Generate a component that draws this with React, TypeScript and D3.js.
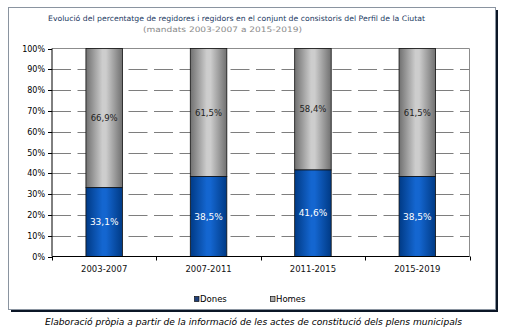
import React from "react";
import * as d3 from "d3";

const categories = ["2003-2007", "2007-2011", "2011-2015", "2015-2019"];
const dones = [33.1, 38.5, 41.6, 38.5];
const homes = [66.9, 61.5, 58.4, 61.5];
const yTicks = [0, 10, 20, 30, 40, 50, 60, 70, 80, 90, 100];
const title1 = "Evolució del percentatge de regidores i regidors en el conjunt de consistoris del Perfil de la Ciutat";
const title2 = "(mandats 2003-2007 a 2015-2019)";
const caption = "Elaboració pròpia a partir de la informació de les actes de constitució dels plens municipals";
const seriesNames = ["Dones", "Homes"];

const fmt = (v: number) => v.toFixed(1).replace(".", ",") + "%";

export default function App() {
  const W = 516, H = 328;
  const left = 52, right = 469.5, top = 48.5, bottom = 256.5;
  const x = d3.scaleBand<string>().domain(categories).range([left, right]).paddingInner(0).paddingOuter(0);
  const y = d3.scaleLinear().domain([0, 100]).range([bottom, top]);
  const barW = x.bandwidth() * 0.35;
  const font = "'DejaVu Sans', Verdana, sans-serif";

  return (
    <svg width={W} height={H} style={{ position: "absolute", left: 0, top: 0 }} fontFamily={font}>
      <defs>
        <linearGradient id="gBlue" x1="0" x2="1" y1="0" y2="0">
          <stop offset="0" stopColor="#003a85" />
          <stop offset="0.45" stopColor="#1466d0" />
          <stop offset="0.55" stopColor="#1466d0" />
          <stop offset="1" stopColor="#003a85" />
        </linearGradient>
        <linearGradient id="gGray" x1="0" x2="1" y1="0" y2="0">
          <stop offset="0" stopColor="#707070" />
          <stop offset="0.45" stopColor="#cdcdcd" />
          <stop offset="0.55" stopColor="#cdcdcd" />
          <stop offset="1" stopColor="#707070" />
        </linearGradient>
      </defs>
      <rect x={0} y={0} width={W} height={H} fill="#ffffff" />
      {/* frame with shadow */}
      <rect x={11} y={10} width={487} height={302} fill="#0b1626" />
      <rect x={8.5} y={7.5} width={487} height={302} fill="#ffffff" stroke="#8a94a0" strokeWidth={1} />

      {/* titles */}
      <text x={48} y={21} fontSize={7.5} fill="#1c3a62" textLength={377} lengthAdjust="spacingAndGlyphs">{title1}</text>
      <text x={143} y={32} fontSize={7.5} fill="#8a8a8a" textLength={159} lengthAdjust="spacingAndGlyphs">{title2}</text>

      {/* plot area border */}
      <line x1={left} x2={right} y1={top} y2={top} stroke="#8c8c8c" strokeWidth={1} />
      <line x1={right} x2={right} y1={top} y2={bottom} stroke="#8c8c8c" strokeWidth={1} />

      {/* gridlines */}
      {yTicks.filter(t => t > 0 && t < 100).map(t => (
        <line key={"g" + t} x1={left} x2={right} y1={Math.round(y(t)) + 0.5} y2={Math.round(y(t)) + 0.5}
          stroke="#7e7e7e" strokeWidth={1} strokeDasharray="19,6.5" />
      ))}

      {/* bars */}
      {categories.map((c, i) => {
        const cx = (x(c) as number) + x.bandwidth() / 2;
        const x0 = cx - barW / 2;
        return (
          <g key={c}>
            <rect x={x0} y={y(dones[i] + homes[i])} width={barW} height={y(dones[i]) - y(dones[i] + homes[i])}
              fill="url(#gGray)" stroke="#111" strokeWidth={0.8} />
            <rect x={x0} y={y(dones[i])} width={barW} height={y(0) - y(dones[i])}
              fill="url(#gBlue)" stroke="#111" strokeWidth={0.8} />
            <text x={cx} y={(y(dones[i]) + y(dones[i] + homes[i])) / 2 + 3.2} textAnchor="middle" fontSize={8.5} fill="#222">{fmt(homes[i])}</text>
            <text x={cx} y={(y(0) + y(dones[i])) / 2 + 3.2} textAnchor="middle" fontSize={9} fill="#ffffff">{fmt(dones[i])}</text>
          </g>
        );
      })}

      {/* y axis */}
      <line x1={left} x2={left} y1={top} y2={bottom} stroke="#000" strokeWidth={1} />
      {yTicks.map(t => (
        <g key={"y" + t}>
          <line x1={left - 4} x2={left} y1={Math.round(y(t)) + 0.5} y2={Math.round(y(t)) + 0.5} stroke="#000" strokeWidth={1} />
          <text x={45} y={y(t) + 3} textAnchor="end" fontSize={8} fill="#000">{t + "%"}</text>
        </g>
      ))}

      {/* x axis */}
      <line x1={left} x2={right} y1={bottom} y2={bottom} stroke="#000" strokeWidth={1} />
      {[...categories.map(c => x(c) as number), right].map((px, i) => (
        <line key={"xt" + i} x1={Math.round(px) + 0.5} x2={Math.round(px) + 0.5} y1={bottom} y2={bottom + 4} stroke="#000" strokeWidth={1} />
      ))}
      {categories.map(c => (
        <text key={"xl" + c} x={(x(c) as number) + x.bandwidth() / 2} y={272} textAnchor="middle" fontSize={8.5} fill="#111">{c}</text>
      ))}

      {/* legend */}
      <rect x={194.5} y={296.5} width={4.5} height={5} fill="#1f3f7a" stroke="#111" strokeWidth={0.7} />
      <text x={200} y={302} fontSize={8.5} fill="#000">{seriesNames[0]}</text>
      <rect x={270.5} y={296.5} width={4.5} height={5} fill="#b0b0b0" stroke="#111" strokeWidth={0.7} />
      <text x={276} y={302} fontSize={8.5} fill="#000">{seriesNames[1]}</text>

      {/* caption */}
      <text x={45} y={325} fontSize={8} fontStyle="italic" fill="#000" textLength={417} lengthAdjust="spacingAndGlyphs">{caption}</text>
    </svg>
  );
}
